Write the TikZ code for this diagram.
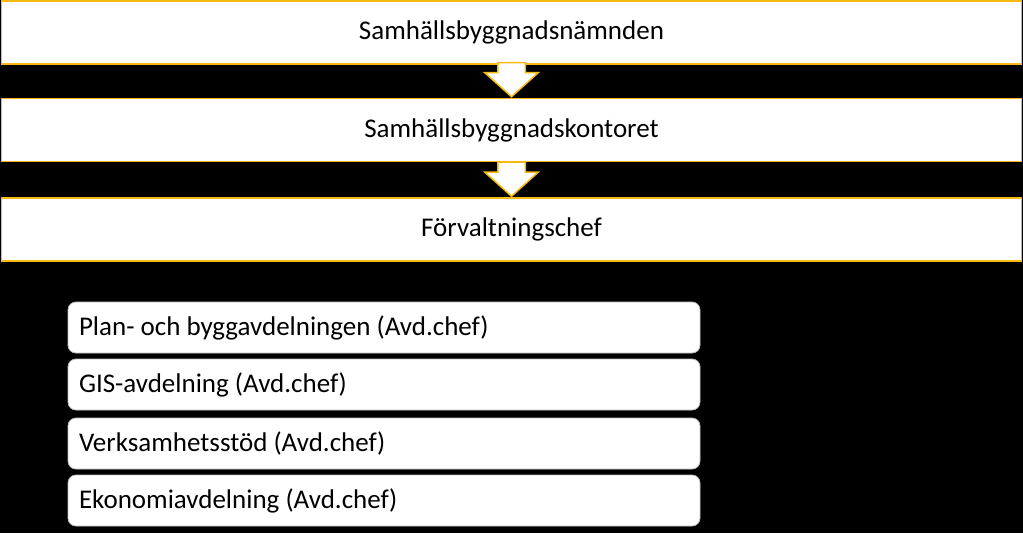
\documentclass[tikz,border=0pt]{standalone}
\usepackage{fontspec}
\setmainfont{Carlito}
\usetikzlibrary{shapes.arrows}
\definecolor{gold}{RGB}{245,185,15}
\tikzset{levelbox/.style={draw=gold, line width=1.5pt, fill=white, minimum width=1020pt, minimum height=63pt, inner sep=0pt, font=\fontsize{27}{31}\selectfont},
  deptbox/.style={draw=gray!50, line width=0.8pt, fill=white, rounded corners=8pt, minimum width=632pt, minimum height=51pt, text width=610pt, inner xsep=11pt, inner ysep=0pt, align=flush left, font=\fontsize{27}{31}\selectfont},
  downarrow/.style={single arrow, draw=gold, line width=1.5pt, fill=white, rotate=-90, minimum height=34pt, inner xsep=0pt, inner ysep=13pt, single arrow head extend=13pt, single arrow tip angle=96}}

\begin{document}
\begin{tikzpicture}[x=1pt, y=-1pt]
    \fill[black] (0,0) rectangle (1023,533);
    \useasboundingbox (0,0) rectangle (1023,533);

    \node (namnd) [levelbox] at (511.5, 32.5) {Samhällsbyggnadsnämnden};
    \node (kontor) [levelbox] at (511.5, 130) {Samhällsbyggnadskontoret};
    \node (chef) [levelbox] at (511.5, 229.5) {Förvaltningschef};

    \node (a1) [downarrow, anchor=tip] at (kontor.north) {};
    \node (a2) [downarrow, anchor=tip] at (chef.north) {};

    \node (plan) [deptbox] at (384, 327.5) {Plan- och byggavdelningen (Avd.chef)};
    \node (gis) [deptbox] at (384, 384.5) {GIS-avdelning (Avd.chef)};
    \node (verk) [deptbox] at (384, 443.5) {Verksamhetsstöd (Avd.chef)};
    \node (ekon) [deptbox] at (384, 500.5) {Ekonomiavdelning (Avd.chef)};
\end{tikzpicture}
\end{document}
